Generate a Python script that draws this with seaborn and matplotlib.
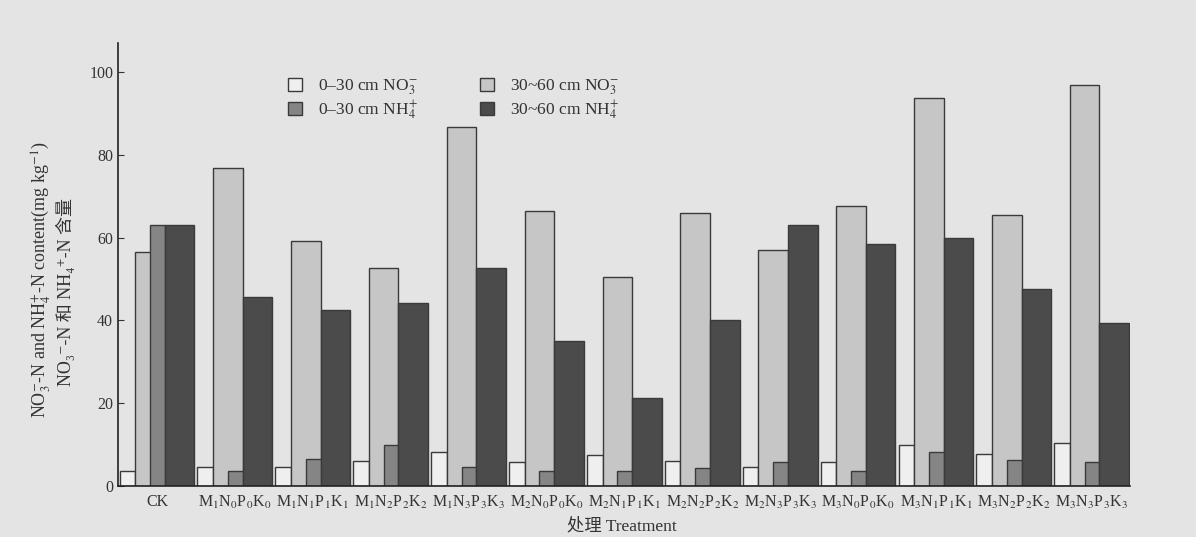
import matplotlib
matplotlib.use("Agg")
import matplotlib.pyplot as plt
from matplotlib.patches import Patch
import numpy as np
import seaborn as sns

treatments = ["CK",
              "M$_1$N$_0$P$_0$K$_0$", "M$_1$N$_1$P$_1$K$_1$", "M$_1$N$_2$P$_2$K$_2$", "M$_1$N$_3$P$_3$K$_3$",
              "M$_2$N$_0$P$_0$K$_0$", "M$_2$N$_1$P$_1$K$_1$", "M$_2$N$_2$P$_2$K$_2$", "M$_2$N$_3$P$_3$K$_3$",
              "M$_3$N$_0$P$_0$K$_0$", "M$_3$N$_1$P$_1$K$_1$", "M$_3$N$_2$P$_2$K$_2$", "M$_3$N$_3$P$_3$K$_3$"]

no3_0_30 = [3.5, 4.7, 4.5, 6.1, 8.3, 5.7, 7.4, 6.1, 4.7, 5.9, 9.9, 7.8, 10.3]
no3_30_60 = [56.4, 76.7, 59.2, 52.6, 86.7, 66.4, 50.5, 66.0, 57.0, 67.6, 93.7, 65.5, 96.9]
nh4_0_30 = [63.0, 3.5, 6.5, 9.8, 4.5, 3.5, 3.7, 4.4, 5.7, 3.7, 8.1, 6.3, 5.7]
nh4_30_60 = [63.0, 45.6, 42.5, 44.2, 52.7, 35.0, 21.3, 40.0, 63.0, 58.5, 60.0, 47.6, 39.4]

labels = ["0–30 cm NO$_3^{-}$", "0–30 cm NH$_4^{+}$", "30~60 cm NO$_3^{-}$", "30~60 cm NH$_4^{+}$"]
colors = ["#efefef", "#858585", "#c6c6c6", "#4b4b4b"]

bg = "#e4e4e4"
edge = "#3a3a3a"
txt = "#333333"

sns.set_style("ticks")
plt.rcParams["font.family"] = ["Liberation Serif", "Noto Sans CJK SC", "DejaVu Sans"]
plt.rcParams["mathtext.fontset"] = "stix"

fig = plt.figure(figsize=(11.96, 5.37), dpi=100, facecolor=bg)
ax = fig.add_axes([0.0987, 0.095, 0.846, 0.825])
ax.set_facecolor(bg)

idx = np.arange(len(treatments))
# (series, offset of bar centre inside group, bar width); mid grey is drawn over the light one
layers = [(no3_0_30, 0.10, 0.20, colors[0]),
          (no3_30_60, 0.39, 0.38, colors[2]),
          (nh4_0_30, 0.485, 0.19, colors[1]),
          (nh4_30_60, 0.77, 0.38, colors[3])]
for vals, off, w, c in layers:
    sns.barplot(x=idx + off, y=vals, native_scale=True, width=w, color=c,
                edgecolor=edge, linewidth=1.0, saturation=1, errorbar=None, ax=ax)

ax.set_xlim(-0.02, len(treatments) - 0.03)
ax.set_ylim(0, 107)
ax.set_yticks([0, 20, 40, 60, 80, 100])
ax.set_xticks(idx + 0.48)
ax.set_xticklabels(treatments, fontsize=11.5, color=txt)
ax.tick_params(axis="y", direction="in", length=4, labelsize=11.5, colors=txt)
ax.tick_params(axis="x", length=0, pad=6)
sns.despine(ax=ax)
for s in ["left", "bottom"]:
    ax.spines[s].set_color("#222222")
    ax.spines[s].set_linewidth(1.2)
ax.set_xlabel("")
ax.set_ylabel("")

handles = [Patch(facecolor=c, edgecolor=edge, linewidth=1.0) for c in colors]
ax.legend(handles, labels, ncol=2, frameon=False, fontsize=12.5,
          loc="upper left", bbox_to_anchor=(0.153, 0.958),
          handlelength=0.8, handleheight=0.8, handletextpad=0.9,
          columnspacing=3.6, labelspacing=0.1, labelcolor=txt)

fig.text(0.034, 0.479, "NO$_3^{-}$-N and NH$_4^{+}$-N content(mg kg$^{-1}$)",
         rotation=90, ha="center", va="center", fontsize=13, color=txt)
fig.text(0.055, 0.456, "NO₃⁻-N 和 NH₄⁺-N 含量",
         rotation=90, ha="center", va="center", fontsize=13, color=txt)
fig.text(0.52, 0.004, "处理 Treatment", ha="center", va="bottom", fontsize=12.5, color=txt)

fig.savefig("out.png", dpi=100, facecolor=bg)
